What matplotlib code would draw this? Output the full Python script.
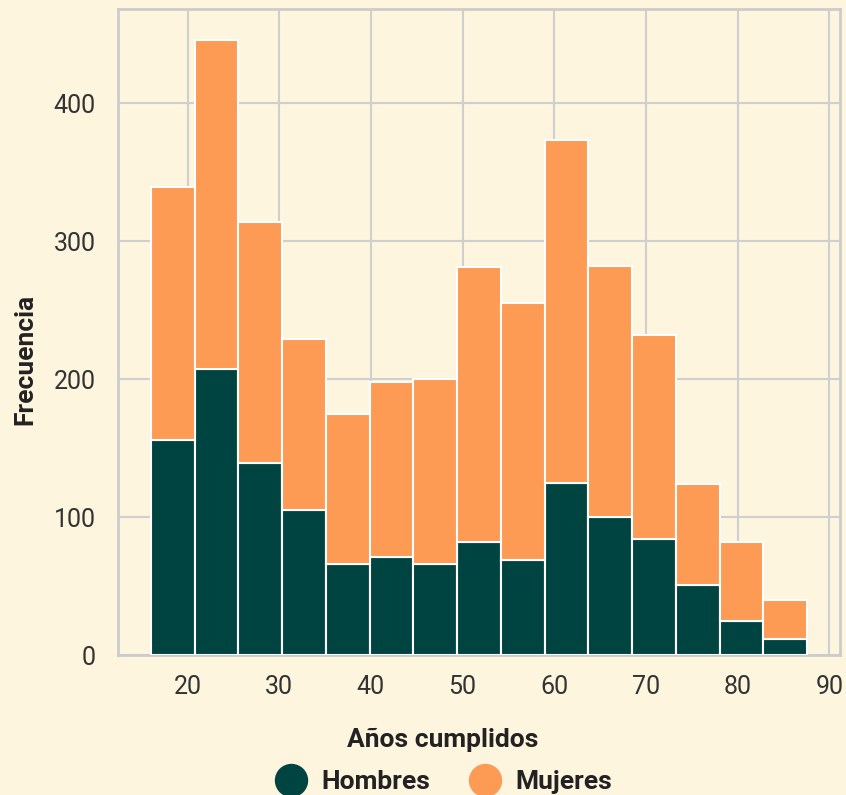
import numpy as np
import matplotlib.pyplot as plt
from matplotlib.lines import Line2D

plt.rcParams['font.family'] = ['Roboto', 'DejaVu Sans']

# age bins (histogram of ages, 15 bins from 16 to ~87.6)
bin_start = 16
bin_end = 87.6
n_bins = 15

# counts
hombres = [156, 207, 139, 105, 66, 71, 66, 82, 69, 125, 100, 84, 51, 25, 12]
total = [339, 446, 314, 229, 175, 198, 200, 281, 255, 373, 282, 232, 124, 82, 40]
mujeres = [t - h for t, h in zip(total, hombres)]

bg = '#fdf5de'
c_h = '#004442'
c_m = '#fd9b54'

edges = np.linspace(bin_start, bin_end, n_bins + 1)
width = edges[1] - edges[0]

fig = plt.figure(figsize=(8.46, 7.95), dpi=100, facecolor=bg)
ax = fig.add_axes([0.1395, 0.176, 0.8535, 0.8127])
ax.set_facecolor(bg)

ax.bar(edges[:-1], hombres, width, align='edge', color=c_h, edgecolor='white', linewidth=1.5, zorder=3)
ax.bar(edges[:-1], mujeres, width, bottom=hombres, align='edge', color=c_m, edgecolor='white', linewidth=1.5, zorder=3)

ax.set_xticks([20, 30, 40, 50, 60, 70, 80, 90])
ax.set_yticks([0, 100, 200, 300, 400])
ax.grid(True, color='#cfcfcf', linewidth=1.5, zorder=0)
for s in ax.spines.values():
    s.set_color('#cccccc')
    s.set_linewidth(2)
ax.tick_params(length=0, labelsize=18, colors='#333333')
ax.tick_params(axis='x', pad=14)
ax.tick_params(axis='y', pad=16)

ax.set_xlabel('Años cumplidos', fontsize=19, fontweight='bold', color='#222222')
ax.set_ylabel('Frecuencia', fontsize=19, fontweight='bold', color='#222222')
ax.xaxis.set_label_coords(0.449, -0.112)
ax.yaxis.set_label_coords(-0.111, 0.458)

handles = [Line2D([], [], marker='o', linestyle='', markersize=23, color=c_h),
           Line2D([], [], marker='o', linestyle='', markersize=23, color=c_m)]
leg = fig.legend(handles, ['Hombres', 'Mujeres'], loc='lower center', bbox_to_anchor=(0.518, -0.029),
                 ncol=2, frameon=False, prop={'weight': 'bold', 'size': 19}, handletextpad=0.15,
                 columnspacing=1.1)
for t in leg.get_texts():
    t.set_color('#222222')

fig.savefig('out.png', dpi=100, facecolor=bg)
